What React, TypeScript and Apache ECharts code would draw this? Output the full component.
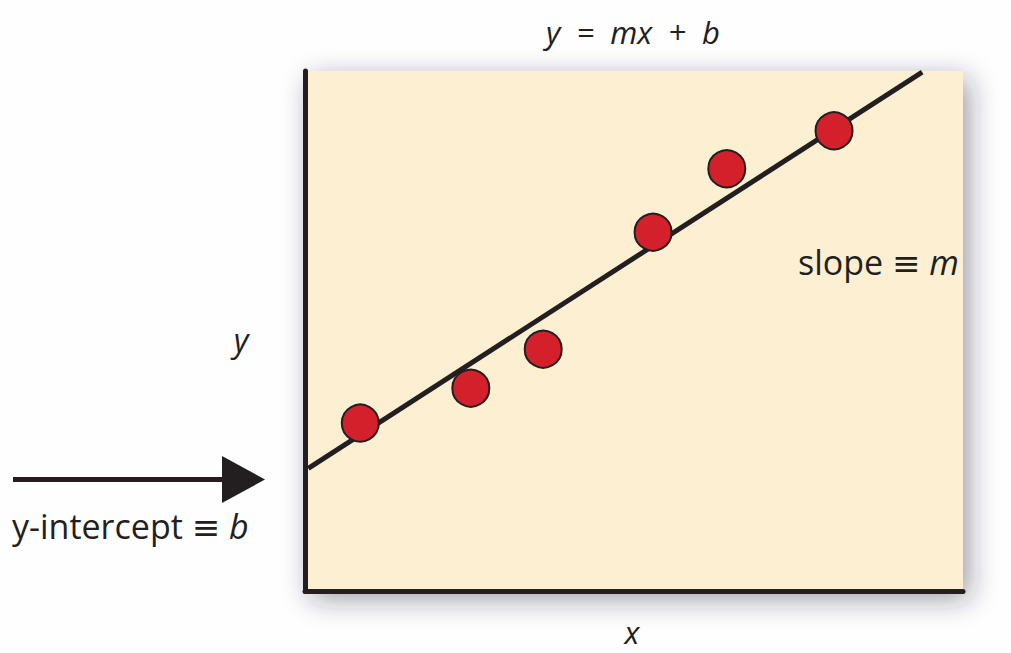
import React, { useEffect, useRef } from "react";
import * as echarts from "echarts";

const pointX = [8.4, 25.2, 36.2, 52.9, 64.1, 80.4];
const pointY = [32.3, 39.0, 46.5, 69.0, 81.2, 88.5];
const fitX = [0.5, 93.8];
const fitY = [23.6, 99.8];

const xName = "x";
const yName = "y";

const INK = "#231f20";
const FONT = "'Open Sans', 'DejaVu Sans', sans-serif";

export default function App() {
  const ref = useRef<HTMLDivElement>(null);
  useEffect(() => {
    if (!ref.current) return;
    const chart = echarts.init(ref.current, undefined, { renderer: "svg" });
    const it = { fontStyle: "italic", fontFamily: FONT, color: INK };
    chart.setOption({
      animation: false,
      backgroundColor: "#fefefe",
      grid: {
        show: true,
        left: 305,
        right: 48,
        top: 71,
        bottom: 62,
        containLabel: false,
        outerBoundsMode: "none",
        backgroundColor: "#fdefd1",
        borderWidth: 0,
        shadowBlur: 28,
        shadowColor: "rgba(40,40,60,0.45)",
        shadowOffsetX: 6,
        shadowOffsetY: 8,
      },
      xAxis: {
        type: "value",
        min: 0,
        max: 100,
        axisLine: { show: true, lineStyle: { color: INK, width: 5 } },
        axisTick: { show: false },
        axisLabel: { show: false },
        splitLine: { show: false },
      },
      yAxis: {
        type: "value",
        min: 0,
        max: 100,
        axisLine: { show: true, lineStyle: { color: INK, width: 5 } },
        axisTick: { show: false },
        axisLabel: { show: false },
        splitLine: { show: false },
      },
      series: [
        {
          type: "line",
          data: fitX.map((x, i) => [x, fitY[i]]),
          symbol: "none",
          lineStyle: { color: INK, width: 5 },
          z: 2,
        },
        {
          type: "scatter",
          data: pointX.map((x, i) => [x, pointY[i]]),
          symbolSize: 37,
          itemStyle: { color: "#d4202a", borderColor: INK, borderWidth: 2, opacity: 1 },
          z: 3,
        },
      ],
      graphic: [
        {
          type: "text",
          x: 633,
          y: 32,
          style: {
            text: "y  =  mx  +  b",
            font: `italic 31px ${FONT}`,
            fill: INK,
            align: "center",
            verticalAlign: "middle",
          },
        },
        {
          type: "text",
          x: 241,
          y: 339,
          style: {
            text: yName,
            font: `italic 32px ${FONT}`,
            fill: INK,
            align: "center",
            verticalAlign: "middle",
          },
        },
        {
          type: "text",
          x: 632,
          y: 632,
          style: {
            text: xName,
            font: `italic 31px ${FONT}`,
            fill: INK,
            align: "center",
            verticalAlign: "middle",
          },
        },
        {
          type: "text",
          x: 959,
          y: 262,
          z: 10,
          style: {
            text: "slope \u2261 {i|m}",
            font: `34px ${FONT}`,
            fill: INK,
            align: "right",
            verticalAlign: "middle",
            rich: { i: { ...it, fontSize: 34 } },
          },
        },
        {
          type: "text",
          x: 12,
          y: 526,
          style: {
            text: "y-intercept \u2261 {i|b}",
            font: `34px ${FONT}`,
            fill: INK,
            align: "left",
            verticalAlign: "middle",
            rich: { i: { ...it, fontSize: 34 } },
          },
        },
        {
          type: "line",
          shape: { x1: 13, y1: 479.5, x2: 228, y2: 479.5 },
          style: { stroke: INK, lineWidth: 5 },
        },
        {
          type: "polygon",
          shape: { points: [[222, 456], [265, 479.5], [222, 503]] },
          style: { fill: INK },
        },
      ],
    });
    return () => chart.dispose();
  }, []);
  return (
    <div
      ref={ref}
      style={{ position: "fixed", left: 0, top: 0, width: 1011, height: 653 }}
    />
  );
}
